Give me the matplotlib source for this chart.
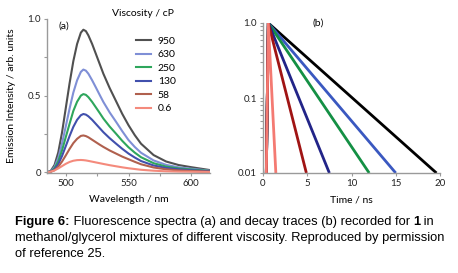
#fluorescence spectra and decay traces of a molecular rotor in methanol/glycerol

import numpy as np
import matplotlib.pyplot as plt
from matplotlib.ticker import FixedLocator, NullFormatter

plt.rcParams['font.family'] = ['Lato', 'DejaVu Sans']

#viscosity labels (cP)
viscosity = ['950', '630', '250', '130', '58', '0.6']

#emission spectra (panel a)
wavelength = [485, 488, 491, 494, 497, 500, 503, 506, 509, 512, 514, 516, 518, 521,
              524, 527, 530, 535, 540, 545, 550, 555, 560, 570, 580, 590, 600, 615]
spec_950 = [0, 0.009, 0.047, 0.13, 0.26, 0.42, 0.58, 0.725, 0.837, 0.911, 0.93, 0.921,
            0.893, 0.837, 0.772, 0.707, 0.642, 0.549, 0.465, 0.381, 0.307, 0.242, 0.186,
            0.112, 0.07, 0.047, 0.033, 0.014]
spec_630 = [0, 0.007, 0.034, 0.094, 0.188, 0.30, 0.415, 0.52, 0.60, 0.655, 0.67, 0.663,
            0.643, 0.60, 0.553, 0.505, 0.458, 0.39, 0.33, 0.268, 0.21, 0.165, 0.127,
            0.077, 0.048, 0.032, 0.023, 0.01]
spec_250 = [0, 0.005, 0.026, 0.071, 0.143, 0.23, 0.316, 0.40, 0.46, 0.50, 0.51, 0.505,
            0.49, 0.459, 0.423, 0.387, 0.35, 0.298, 0.252, 0.205, 0.163, 0.128, 0.098,
            0.059, 0.037, 0.025, 0.018, 0.008]
spec_130 = [0, 0.004, 0.019, 0.053, 0.106, 0.171, 0.236, 0.296, 0.342, 0.372, 0.38, 0.376,
            0.365, 0.342, 0.315, 0.288, 0.261, 0.222, 0.187, 0.153, 0.122, 0.096, 0.073,
            0.044, 0.028, 0.019, 0.013, 0.006]
spec_58 = [0, 0.003, 0.013, 0.036, 0.07, 0.11, 0.152, 0.19, 0.218, 0.237, 0.24, 0.236,
           0.228, 0.212, 0.196, 0.18, 0.165, 0.142, 0.122, 0.102, 0.085, 0.068, 0.052,
           0.031, 0.019, 0.012, 0.008, 0.004]
spec_06 = [0, 0.004, 0.012, 0.025, 0.04, 0.055, 0.067, 0.075, 0.079, 0.08, 0.079, 0.077,
           0.074, 0.069, 0.064, 0.059, 0.054, 0.046, 0.039, 0.032, 0.026, 0.021, 0.016,
           0.01, 0.006, 0.004, 0.003, 0.001]

#decay traces (panel b): time / ns and normalised counts
time_950 = [0.35, 0.6, 19.6]
time_630 = [0.35, 0.6, 15.0]
time_250 = [0.35, 0.6, 12.0]
time_130 = [0.35, 0.6, 7.5]
time_58 = [0.35, 0.6, 4.9]
time_06 = [0.35, 0.6, 1.45]
decay = [0.006, 1.0, 0.01]

spectra = [spec_950, spec_630, spec_250, spec_130, spec_58, spec_06]
times = [time_950, time_630, time_250, time_130, time_58, time_06]
colors_a = ['#505050', '#7f8fd6', '#2ea65c', '#4150ad', '#b0604e', '#f48a7c']
colors_b = ['#000000', '#3a58c0', '#149044', '#222488', '#a01414', '#f47a72']

fig = plt.figure(figsize=(4.58, 2.73), dpi=100)
axa = fig.add_axes([47/458, 1-173/273, 163/458, 154/273])
axb = fig.add_axes([263/458, 1-173/273, 177/458, 150/273])

for ax in (axa, axb):
    for s in ('top', 'right'):
        ax.spines[s].set_visible(False)
    for s in ('left', 'bottom'):
        ax.spines[s].set_color('#9a9a9a')
        ax.spines[s].set_linewidth(1.0)
    ax.tick_params(which='both', colors='#9a9a9a', labelcolor='#222222',
                   labelsize=7, length=2.5, width=0.8, pad=2)
    ax.tick_params(which='minor', length=2)

#panel a
for y, c, lab in zip(spectra, colors_a, viscosity):
    axa.plot(wavelength, y, color=c, lw=1.5, label=lab)
axa.set_xlim(485, 615)
axa.set_ylim(-0.005, 1.0)
axa.set_xticks([500, 550, 600])
axa.xaxis.set_minor_locator(FixedLocator([525, 575]))
axa.set_yticks([0, 0.5, 1.0])
axa.set_yticklabels(['0', '0.5', '1.0'])
axa.yaxis.set_minor_locator(FixedLocator([0.25, 0.75]))
axa.set_xlabel('Wavelength / nm', fontsize=7.5, labelpad=5)
axa.set_ylabel('Emission Intensity / arb. units', fontsize=7.5, labelpad=8)
axa.text(0.07, 0.985, '(a)', transform=axa.transAxes, fontsize=7.5, va='top')
axa.text(0.4, 1.035, 'Viscosity / cP', transform=axa.transAxes, fontsize=7.5, va='center')
axa.legend(frameon=False, loc='upper left', bbox_to_anchor=(0.545, 0.885),
           borderaxespad=0, borderpad=0, handlelength=1.5, handletextpad=0.6,
           labelspacing=0.4, fontsize=7.5)

#panel b
for t, c in zip(times, colors_b):
    axb.plot(t, decay, color=c, lw=2.0, solid_capstyle='butt')
axb.set_yscale('log')
axb.set_xlim(0, 20)
axb.set_ylim(0.01, 1.0)
axb.set_xticks([0, 5, 10, 15, 20])
axb.set_yticks([0.01, 0.1, 1.0])
axb.set_yticklabels(['0.01', '0.1', '1.0'])
axb.yaxis.set_minor_formatter(NullFormatter())
axb.set_xlabel('Time / ns', fontsize=7.5, labelpad=5)
axb.text(0.28, 1.0, '(b)', transform=axb.transAxes, fontsize=7.5, va='center')

#caption with bold parts
renderer = fig.canvas.get_renderer()
cap_lines = [
    [('Figure 6:', 'bold'), (' Fluorescence spectra (a) and decay traces (b) recorded for ', 'normal'),
     ('1', 'bold'), (' in', 'normal')],
    [('methanol/glycerol mixtures of different viscosity. Reproduced by permission', 'normal')],
    [('of reference 25.', 'normal')],
]
y0 = 222
for line in cap_lines:
    x = 15
    for txt, w in line:
        t = fig.text(x/458, 1-y0/273, txt, fontsize=9.3, fontweight=w,
                     family='Liberation Sans', va='center', ha='left')
        x += t.get_window_extent(renderer).width
    y0 += 15.8

plt.savefig('out.png', dpi=100)
